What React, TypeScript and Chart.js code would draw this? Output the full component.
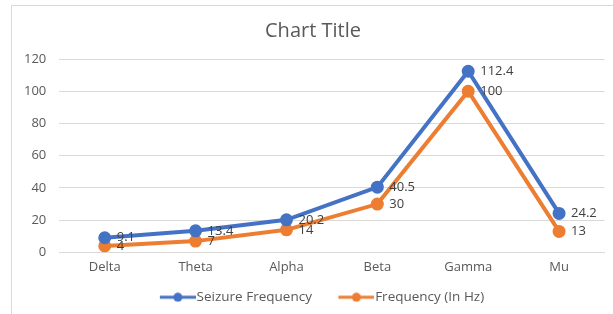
import React, { useEffect, useRef } from "react";
import { Chart, registerables } from "chart.js";

Chart.register(...registerables);

const categories = ["Delta", "Theta", "Alpha", "Beta", "Gamma", "Mu"];
const seizureFrequency = [9.1, 13.4, 20.2, 40.5, 112.4, 24.2];
const frequencyHz = [4, 7, 14, 30, 100, 13];
const seriesNames = ["Seizure Frequency", "Frequency (In Hz)"];
const yTicks = [0, 20, 40, 60, 80, 100, 120];

const BLUE = "#4472C4";
const ORANGE = "#ED7D31";
const FONT = "'Open Sans', 'Noto Sans', sans-serif";

// legend box: 48 px wide; icon visible on its right 36 px, left part acts as spacing
const LEGEND_BOX = 48;
function legendIcon(color: string): HTMLCanvasElement {
  const c = document.createElement("canvas");
  c.width = 60;
  c.height = 10;
  const ctx = c.getContext("2d")!;
  ctx.strokeStyle = color;
  ctx.lineWidth = 3;
  ctx.beginPath();
  ctx.moveTo(24, 5);
  ctx.lineTo(60, 5);
  ctx.stroke();
  ctx.fillStyle = color;
  ctx.beginPath();
  ctx.arc(42, 5, 4.5, 0, Math.PI * 2);
  ctx.fill();
  return c;
}

const dataLabelPlugin = {
  id: "dataLabels",
  afterDatasetsDraw(chart: any) {
    const ctx = chart.ctx;
    ctx.save();
    ctx.fillStyle = "#404040";
    ctx.font = `13px ${FONT}`;
    ctx.textAlign = "left";
    ctx.textBaseline = "middle";
    chart.data.datasets.forEach((ds: any, i: number) => {
      const meta = chart.getDatasetMeta(i);
      meta.data.forEach((pt: any, j: number) => {
        ctx.fillText(String(ds.data[j]), pt.x + 12, pt.y);
      });
    });
    ctx.restore();
  },
};

export default function App() {
  const ref = useRef<HTMLCanvasElement | null>(null);

  useEffect(() => {
    if (!ref.current) return;
    const icons = [legendIcon(BLUE), legendIcon(ORANGE)];
    const chart = new Chart(ref.current, {
      type: "line",
      data: {
        labels: categories,
        datasets: [
          {
            label: seriesNames[0],
            data: seizureFrequency,
            borderColor: BLUE,
            backgroundColor: BLUE,
            borderWidth: 4,
            pointRadius: 4.5,
            pointHoverRadius: 4.5,
            tension: 0,
          },
          {
            label: seriesNames[1],
            data: frequencyHz,
            borderColor: ORANGE,
            backgroundColor: ORANGE,
            borderWidth: 4,
            pointRadius: 4.5,
            pointHoverRadius: 4.5,
            tension: 0,
          },
        ],
      },
      options: {
        responsive: false,
        animation: false,
        layout: { padding: { left: 11, right: -2, top: 0, bottom: 0 } },
        elements: { point: { pointStyle: "circle" } },
        plugins: {
          title: {
            display: true,
            text: "Chart Title",
            color: "#595959",
            font: { family: FONT, size: 20, weight: "normal" },
            padding: { top: 19, bottom: 16 },
          },
          legend: {
            position: "bottom",
            labels: {
              color: "#595959",
              font: { family: FONT, size: 13.5 },
              usePointStyle: true,
              pointStyleWidth: LEGEND_BOX,
              boxWidth: LEGEND_BOX,
              padding: 8.5,
              generateLabels: (ch: any) =>
                ch.data.datasets.map((ds: any, i: number) => ({
                  text: ds.label,
                  fillStyle: ds.borderColor,
                  strokeStyle: ds.borderColor,
                  pointStyle: icons[i],
                  datasetIndex: i,
                  hidden: false,
                  fontColor: "#595959",
                })),
            },
          },
          tooltip: { enabled: false },
        },
        scales: {
          x: {
            offset: true,
            grid: { display: false, drawTicks: false },
            border: { display: true, color: "#d9d9d9", width: 1 },
            ticks: {
              color: "#595959",
              font: { family: FONT, size: 13 },
              padding: 7,
            },
          },
          y: {
            min: 0,
            max: 120,
            afterBuildTicks: (axis: any) => {
              axis.ticks = yTicks.map((v) => ({ value: v }));
            },
            grid: { color: "#d9d9d9", drawTicks: false },
            border: { display: false },
            ticks: {
              color: "#595959",
              font: { family: FONT, size: 13 },
              padding: 13,
            },
          },
        },
      },
      plugins: [dataLabelPlugin],
    });
    return () => chart.destroy();
  }, []);

  return (
    <div
      style={{
        position: "fixed",
        left: 0,
        top: 0,
        width: 613,
        height: 314,
        background: "#fff",
        overflow: "hidden",
      }}
    >
      <div
        style={{
          position: "absolute",
          left: 11,
          top: 5,
          width: 640,
          height: 340,
          border: "1px solid #d9d9d9",
        }}
      />
      <canvas
        ref={ref}
        width={613}
        height={314}
        style={{ position: "absolute", left: 0, top: 0, width: 613, height: 314 }}
      />
    </div>
  );
}
